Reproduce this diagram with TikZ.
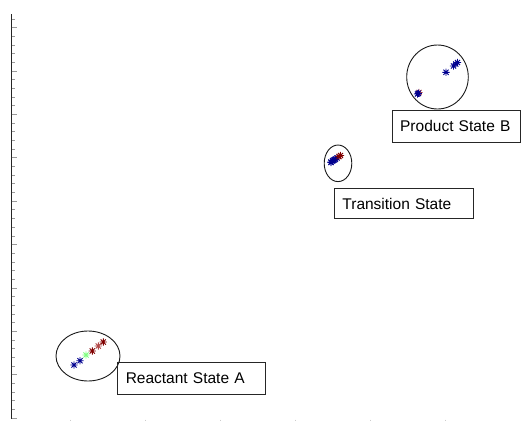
\documentclass[tikz,border=0pt]{standalone}
\usepackage{fontspec}
\setmainfont{Liberation Sans}
\usetikzlibrary{positioning,calc,shapes.geometric}
\definecolor{jetblue}{RGB}{0,0,143}
\definecolor{jetred}{RGB}{128,0,0}
\definecolor{jetpink}{RGB}{178,72,72}
\definecolor{jetgreen}{RGB}{128,255,128}

\tikzset{
  statebox/.style={draw=black!85, line width=0.9pt, anchor=north west,
    inner xsep=8pt, inner ysep=0pt, align=left,
    font=\fontsize{15.5}{18}\selectfont},
  basin/.style={draw=black!90, line width=0.9pt, ellipse, inner sep=0pt},
  ast/.pic={
    \draw[line width=0.9pt] (-3.6,0) -- (3.6,0) (0,-3.6) -- (0,3.6)
      (-2.6,-2.6) -- (2.6,2.6) (-2.6,2.6) -- (2.6,-2.6);
  }
}

\begin{document}
\begin{tikzpicture}[x=1pt,y=-1pt]
    \useasboundingbox (0,0) rectangle (522,421);

    % Axis
    \draw[line width=1.2pt,black!85] (11.5,14) -- (11.5,419);
    \foreach \k in {0, ..., 46}
      \draw[gray!80,line width=1pt] (11.5,19+8.68*\k) -- (14.5,19+8.68*\k);
    \foreach \k in {1, 6, ..., 46}
      \draw[gray!80,line width=1pt] (11.5,19+8.68*\k) -- (17,19+8.68*\k);
    \foreach \x in {70, 145, 220, 295, 370, 445}
      \draw[gray!40,line width=0.8pt] (\x,419.5) -- (\x,421);

    % Reactant
    \node[basin, minimum width=64pt, minimum height=50pt] (basinA) at (88,356) {};
    \foreach \x/\y/\c in {74/365/jetblue, 80/360.7/jetblue, 86/355/jetgreen,
                          92.3/351/jetred, 98.3/346/jetpink, 103.3/342/jetred}
      \pic[\c] at (\x,\y) {ast};
    \node[statebox, text width=131.7pt, minimum height=31.7pt] (stateA) at (117.3,362.3) {Reactant State A};

    % Transition
    \node[basin, minimum width=27.6pt, minimum height=36.6pt] (basinT) at (338,163.3) {};
    \foreach \x/\y in {331/162, 332.5/161, 334/160, 335.5/159, 337/158,
                       331/162.5, 333/160.5, 335/159.5}
      \pic[jetblue] at (\x,\y) {ast};
    \foreach \x/\y in {339/156.5, 340.5/155.5}
      \pic[jetred] at (\x,\y) {ast};
    \node[statebox, text width=123.3pt, minimum height=30pt] (stateT) at (334,188.3) {Transition State};

    % Product
    \node[basin, minimum width=61.6pt, minimum height=64pt] (basinB) at (437.5,77) {};
    \pic[jetpink] at (419,92.5) {ast};
    \foreach \x/\y in {418.3/93.3, 417.5/94, 446/72.3, 453.5/66, 455.7/64, 457.5/62.5}
      \pic[jetblue] at (\x,\y) {ast};
    \node[statebox, text width=112.3pt, minimum height=31.7pt] (stateB) at (391.7,110) {Product State B};
\end{tikzpicture}
\end{document}
